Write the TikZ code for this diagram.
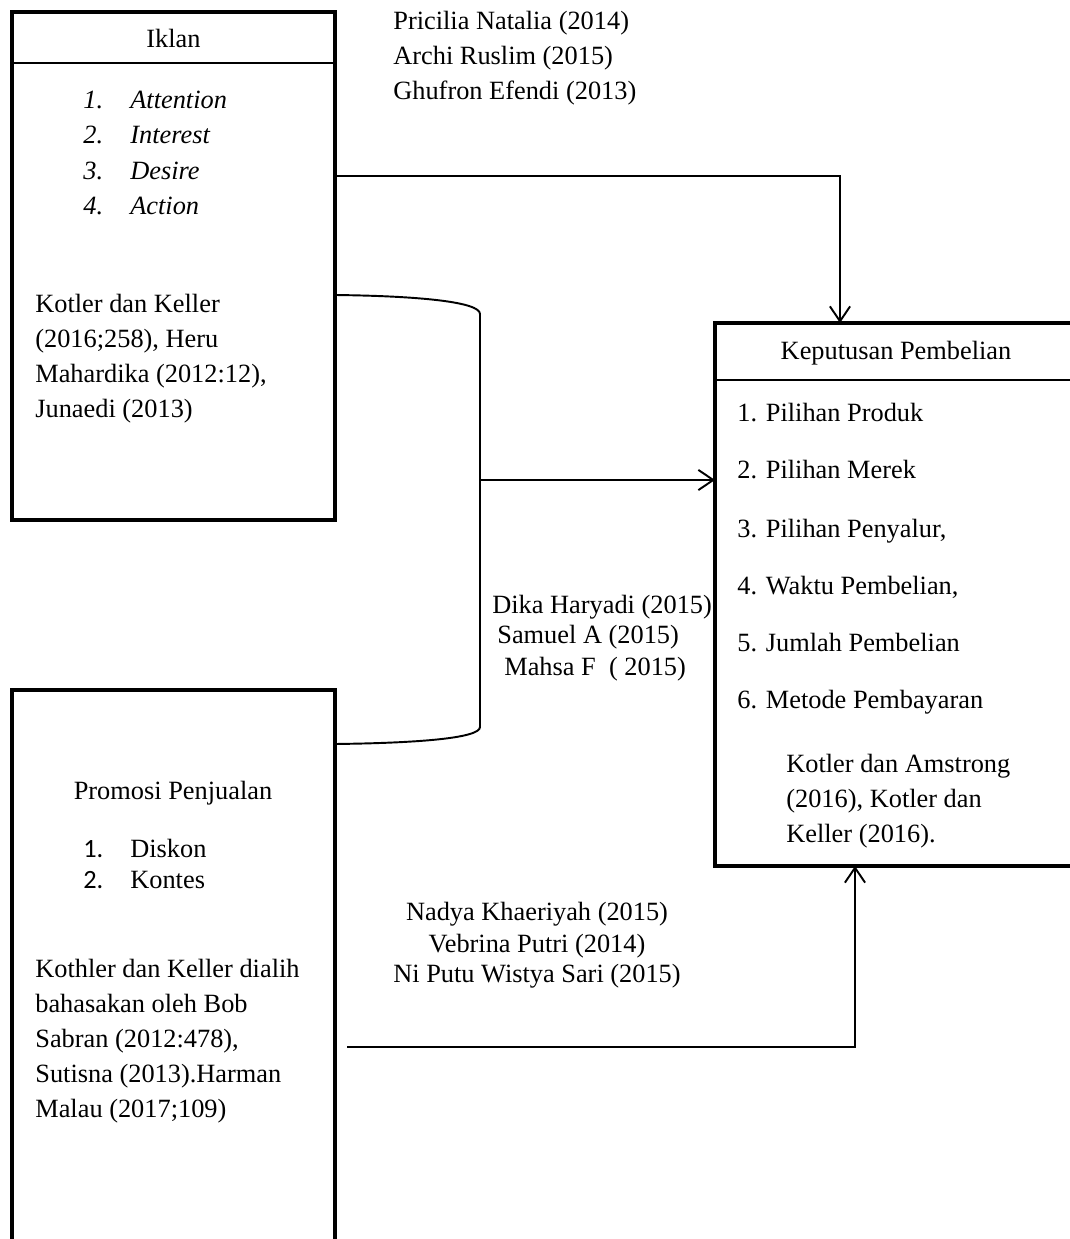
\documentclass[tikz,border=0pt]{standalone}
\usepackage{fontspec}
\setmainfont{Liberation Serif}
\newfontfamily\calibrifont{Carlito}
\usetikzlibrary{arrows.meta,fit}
\begin{document}
\begin{tikzpicture}[x=0.02cm,y=-0.02cm,
  box/.style={draw, line width=2.3pt, inner sep=0pt, outer sep=0pt},
  hline/.style={line width=1.2pt},
  conn/.style={line width=1.1pt},
  arr/.style={conn, -{Straight Barb[length=8.5pt,width=11.5pt]}},
  txt/.style={anchor=base west, inner sep=0pt, font=\fontsize{15}{20}\selectfont},
  ctxt/.style={anchor=base, inner sep=0pt, font=\fontsize{15}{20}\selectfont}]
\useasboundingbox (0,0) rectangle (1070,1239);
\clip (0,0) rectangle (1070,1239);

% boxes
\node[box, fit={(12,12) (335,520)}] (iklan) {};
\node[box, fit={(715,323) (1090,866)}] (kep) {};
\node[box, fit={(12,690) (335,1270)}] (promo) {};

\coordinate (h1) at (0,63);
\draw[hline] (iklan.west |- h1) -- (iklan.east |- h1);
\coordinate (h2) at (1070,380);
\draw[hline] (kep.west |- h2) -- (h2);

% connectors
\coordinate (a1) at (840,176);
\draw[arr] (iklan.east |- a1) -| (kep.north -| a1);

\coordinate (b1) at (0,295);
\coordinate (b2) at (0,744);
\coordinate (b3) at (480,480);
\draw[conn] (iklan.east |- b1) .. controls (420,296) and (480,302) .. (480,314)
  -- (480,727) .. controls (480,738) and (420,743) .. (promo.east |- b2);
\draw[arr] (b3) -- (kep.west |- b3);

\coordinate (c3s) at (347,1047);
\coordinate (c3) at (855,1047);
\draw[arr] (c3s) -| (kep.south -| c3);

% top references
\node[txt] (r1) at (393,30) {Pricilia Natalia (2014)};
\node[txt] (r2) at (393,65) {Archi Ruslim (2015)};
\node[txt] (r3) at (393,100) {Ghufron Efendi (2013)};

% Iklan
\node[ctxt] (iklant) at (173.5,48) {Iklan};
\node[txt] (in1) at (83,109) {\itshape 1.};
\node[txt] (it1) at (130,109) {\itshape Attention};
\node[txt] (in2) at (83,144) {\itshape 2.};
\node[txt] (it2) at (130,144) {\itshape Interest};
\node[txt] (in3) at (83,180) {\itshape 3.};
\node[txt] (it3) at (130,180) {\itshape Desire};
\node[txt] (in4) at (83,215) {\itshape 4.};
\node[txt] (it4) at (130,215) {\itshape Action};
\node[txt] (ik1) at (35,313) {Kotler dan Keller};
\node[txt] (ik2) at (35,348) {(2016;258), Heru};
\node[txt] (ik3) at (35,383) {Mahardika (2012:12),};
\node[txt] (ik4) at (35,418) {Junaedi (2013)};

% middle references
\node[txt] (d1) at (492,613) {Dika Haryadi (2015)};
\node[txt] (d2) at (497,643) {Samuel A (2015)};
\node[txt] (d3) at (504,675) {Mahsa F\ \ (\ 2015)};

% Keputusan
\node[ctxt] (kept) at (896,360) {Keputusan Pembelian};
\node[txt] (k1) at (737,422) {1. Pilihan Produk};
\node[txt] (k2) at (737,479) {2. Pilihan Merek};
\node[txt] (k3) at (737,537) {3. Pilihan Penyalur,};
\node[txt] (k4) at (737,594) {4. Waktu Pembelian,};
\node[txt] (k5) at (737,651) {5. Jumlah Pembelian};
\node[txt] (k6) at (737,708) {6. Metode Pembayaran};
\node[txt] (kr1) at (786,772) {Kotler dan Amstrong};
\node[txt] (kr2) at (786,807) {(2016), Kotler dan};
\node[txt] (kr3) at (786,842) {Keller (2016).};

% Promosi
\node[ctxt] (promt) at (173,799) {Promosi Penjualan};
\node[txt] (pn1) at (83,857) {\calibrifont 1.};
\node[txt] (pt1) at (130,857) {Diskon};
\node[txt] (pn2) at (83,888) {\calibrifont 2.};
\node[txt] (pt2) at (130,888) {Kontes};
\node[txt] (pk1) at (35,977) {Kothler dan Keller dialih};
\node[txt] (pk2) at (35,1012) {bahasakan oleh Bob};
\node[txt] (pk3) at (35,1047) {Sabran (2012:478),};
\node[txt] (pk4) at (35,1082) {Sutisna (2013).Harman};
\node[txt] (pk5) at (35,1117) {Malau (2017;109)};

% bottom references
\node[ctxt] (n1) at (537,920) {Nadya Khaeriyah (2015)};
\node[ctxt] (n2) at (537,952) {Vebrina Putri (2014)};
\node[ctxt] (n3) at (537,982) {Ni Putu Wistya Sari (2015)};
\end{tikzpicture}
\end{document}
